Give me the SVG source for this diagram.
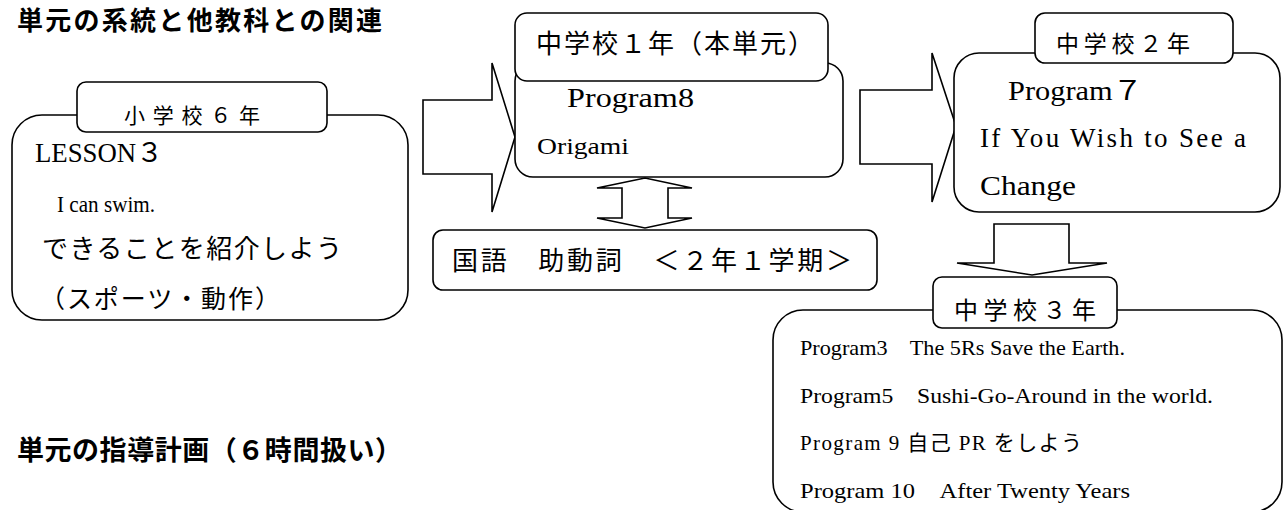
<svg xmlns="http://www.w3.org/2000/svg" width="1284" height="510" viewBox="0 0 1284 510">
<style>
.box{fill:#fff;stroke:#000;stroke-width:1.6}
.arrow{fill:#fff;stroke:#000;stroke-width:1.6;stroke-linejoin:miter}
.title{font-family:"Noto Sans CJK JP","Noto Sans CJK SC",sans-serif;font-weight:bold;fill:#000}
.jp{font-family:"Liberation Serif","Noto Sans CJK JP",serif;fill:#000}
.en{font-family:"Liberation Serif","Noto Sans CJK JP",serif;fill:#000}
</style>
<rect width="1284" height="510" fill="#fff"/>
<text class="title" x="17" y="30" font-size="26" textLength="365" lengthAdjust="spacing">単元の系統と他教科との関連</text>
<text class="title" x="17" y="460" font-size="27" textLength="385" lengthAdjust="spacing">単元の指導計画（６時間扱い）</text>

<g id="connectors">
<polygon class="arrow" points="423,100 492,100 492,63 515,137 492,212 492,174 423,174"/>
<polygon class="arrow" points="860,90 932,90 932,53 956,126 932,202 932,164 860,164"/>
<polygon class="arrow" points="597,188 645,178 692,188 668,188 668,218 692,218 645,228 597,218 622,218 622,188"/>
<polygon class="arrow" points="994,224 1069,224 1069,263 1107,263 1032,275 957,263 994,263"/>
</g>

<g id="node-elementary">
<rect class="box" x="12" y="115" width="396" height="205" rx="30"/>
<rect class="box" x="77" y="82" width="250" height="50" rx="9"/>
<text class="jp" x="124" y="123" font-size="21" textLength="136" lengthAdjust="spacing">小学校６年</text>
<text class="en" x="35" y="162" font-size="27" textLength="128" lengthAdjust="spacingAndGlyphs">LESSON３</text>
<text class="en" x="57" y="212" font-size="24" textLength="98" lengthAdjust="spacingAndGlyphs">I can swim.</text>
<text class="jp" x="42" y="258" font-size="26" textLength="300" lengthAdjust="spacing">できることを紹介しよう</text>
<text class="jp" x="40" y="308" font-size="25" textLength="240" lengthAdjust="spacing">（スポーツ・動作）</text>
</g>

<g id="node-jh1">
<rect class="box" x="515" y="63" width="328" height="114" rx="18"/>
<rect class="box" x="515" y="13" width="313" height="68" rx="12"/>
<text class="jp" x="536" y="53" font-size="26" textLength="278" lengthAdjust="spacing">中学校１年（本単元）</text>
<text class="en" x="567" y="107" font-size="27" textLength="127" lengthAdjust="spacingAndGlyphs">Program8</text>
<text class="en" x="537" y="154" font-size="24" textLength="92" lengthAdjust="spacingAndGlyphs">Origami</text>
</g>

<g id="node-kokugo">
<rect class="box" x="433" y="230" width="444" height="60" rx="10"/>
<text class="jp" x="452" y="270" font-size="26" textLength="400" lengthAdjust="spacing">国語　助動詞　＜２年１学期＞</text>
</g>

<g id="node-jh2">
<rect class="box" x="954" y="53" width="326" height="159" rx="25"/>
<rect class="box" x="1035" y="13" width="198" height="50" rx="10"/>
<text class="jp" x="1056" y="52" font-size="23" textLength="134" lengthAdjust="spacing">中学校２年</text>
<text class="en" x="1008" y="100" font-size="27" textLength="135" lengthAdjust="spacingAndGlyphs">Program７</text>
<text class="en" x="980" y="147" font-size="27" textLength="266" lengthAdjust="spacing">If You Wish to See a</text>
<text class="en" x="980" y="195" font-size="27" textLength="96" lengthAdjust="spacingAndGlyphs">Change</text>
</g>

<g id="node-jh3">
<rect class="box" x="773" y="310" width="509" height="202" rx="30"/>
<rect class="box" x="933" y="277" width="184" height="51" rx="9"/>
<text class="jp" x="954" y="319" font-size="24" textLength="142" lengthAdjust="spacing">中学校３年</text>
<text class="en" x="800" y="355" font-size="21" textLength="325" lengthAdjust="spacingAndGlyphs">Program3　The 5Rs Save the Earth.</text>
<text class="en" x="800" y="403" font-size="21" textLength="413" lengthAdjust="spacingAndGlyphs">Program5　Sushi-Go-Around in the world.</text>
<text class="en" x="800" y="450" font-size="21" textLength="282" lengthAdjust="spacing">Program 9 自己 PR をしよう</text>
<text class="en" x="800" y="498" font-size="21" textLength="330" lengthAdjust="spacingAndGlyphs">Program 10　After Twenty Years</text>
</g>
</svg>
